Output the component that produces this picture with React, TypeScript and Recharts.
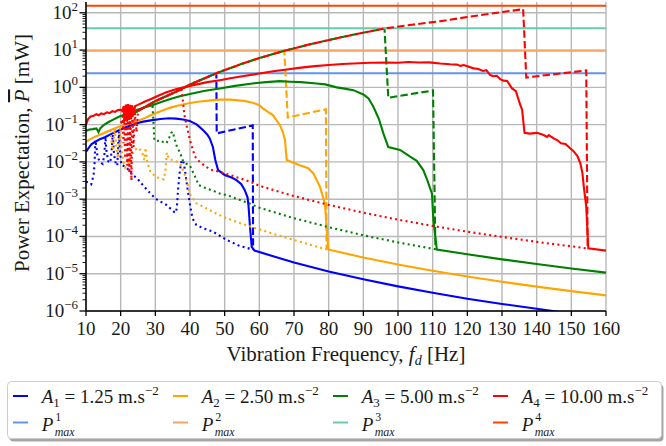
import React from 'react';
import { LineChart, Line, XAxis, YAxis, CartesianGrid } from 'recharts';

type Pt = [number, number];

const FONT = '"Liberation Serif", "Times New Roman", serif';

// ---- axes ----
const freqTicks = [10, 20, 30, 40, 50, 60, 70, 80, 90, 100, 110, 120, 130, 140, 150, 160];
const decadeExponents = [-6, -5, -4, -3, -2, -1, 0, 1, 2];
const minorMultipliers = [2, 3, 4, 5, 6, 7, 8, 9];
const powerDomain: [number, number] = [1e-6, 195];

// ---- amplitudes and power limits ----
const amplitudeLabels = ['1.25', '2.50', '5.00', '10.00'];
const seriesColors = ['#0000ff', '#ffa500', '#008000', '#ff0000'];
const pMaxColors = ['#6495ed', '#f4a460', '#66cdaa', '#ff4500'];
const pMaxValues = [2.4, 9.6, 38.4, 153.6]; // mW

// All curves: [frequency in Hz, log10(power in mW)]

// Shared rising branch of the tuned (dashed) curves
const tunedEnvelope: Pt[] = [
  [20, -0.95], [22.4, -0.79], [25, -0.63], [30, -0.37], [35.9, -0.12], [41, 0.115],
  [47.6, 0.38], [55, 0.633], [60, 0.785], [67.2, 0.98], [75, 1.164], [85, 1.373],
  [96.1, 1.58], [104, 1.68], [112.2, 1.775], [120, 1.887], [128, 1.994], [136.1, 2.097],
];
// Frequency where each tuned curve leaves the shared branch
const tunedCutoffs = [47.6, 67.2, 96.1, 136.1];

const a1Tuned: Pt[] = [[47.7, -1.236], [58.1, -1.02], [58.2, -4.35]];
const a2Tuned: Pt[] = [[68.2, -0.807], [79.2, -0.59], [79.4, -4.35]];
const a3Tuned: Pt[] = [[97.2, -0.28], [110.1, -0.083], [110.8, -4.35]];
const a4Tuned: Pt[] = [[137.0, 0.265], [154.3, 0.453], [154.7, -4.32]];

const a1Solid: Pt[] = [
  [10, -1.73], [10.8, -1.62], [11.6, -1.52], [12.7, -1.46], [14, -1.39], [15.6, -1.33],
  [17.5, -1.24], [19.5, -1.15], [22, -1.05], [24.3, -0.97], [26.5, -0.92], [29.1, -0.88],
  [31.5, -0.85], [33.9, -0.83], [36, -0.84], [38, -0.86], [39.9, -0.9], [42, -1.0],
  [43.8, -1.15], [45, -1.27], [45.7, -1.37], [46.6, -1.6], [47.3, -1.95], [48.1, -2.22],
  [50, -2.35], [52, -2.42], [53.4, -2.49], [54.8, -2.6], [55.8, -2.76], [56.6, -2.95],
  [56.9, -3.2], [57.3, -3.74], [57.8, -4.28], [58.6, -4.38], [70, -4.7], [80, -4.94],
  [90, -5.15], [100, -5.34], [110, -5.51], [120, -5.67], [130, -5.81], [140, -5.94],
  [150, -6.07], [160, -6.18],
];
const a2Solid: Pt[] = [
  [10, -1.46], [11, -1.4], [12.5, -1.33], [14, -1.27], [15.5, -1.21], [17.5, -1.13],
  [19.5, -1.06], [22, -0.99], [24.3, -0.92], [27, -0.82], [29.1, -0.73], [31.5, -0.64],
  [34.1, -0.55], [37, -0.48], [40, -0.42], [43, -0.38], [46, -0.35], [48.6, -0.33],
  [51.5, -0.33], [54, -0.35], [56, -0.37], [58, -0.41], [60, -0.48], [61.1, -0.57],
  [62.5, -0.66], [64, -0.75], [65.9, -1.01], [66.8, -1.2], [67.4, -1.42], [67.9, -1.95],
  [69.3, -2.0], [71.7, -2.09], [74.1, -2.17], [75.6, -2.31], [77.5, -2.67], [78.9, -3.11],
  [79.4, -3.74], [79.9, -4.35], [90, -4.566], [100, -4.752], [110, -4.92], [120, -5.074],
  [130, -5.215], [140, -5.345], [150, -5.467], [160, -5.58],
];
const a3Solid: Pt[] = [
  [10, -1.17], [11, -1.13], [12, -1.12], [13, -1.1], [13.6, -1.2], [14.1, -1.1],
  [15.1, -1.01], [16.5, -0.93], [18, -0.86], [19.5, -0.79], [22, -0.7], [24, -0.63],
  [26.5, -0.55], [29.1, -0.48], [31.5, -0.4], [34.1, -0.32], [37, -0.24], [40, -0.18],
  [44, -0.1], [48.6, -0.03], [53, 0.04], [58, 0.105], [62, 0.14], [65.9, 0.166],
  [69, 0.15], [72, 0.14], [76.5, 0.105], [79, 0.08], [82.3, 0.0], [85, -0.04],
  [87.1, -0.075], [90, -0.19], [91.5, -0.3], [92.9, -0.52], [94.5, -0.85], [95.8, -1.24],
  [97.2, -1.6], [100.6, -1.68], [103.5, -1.86], [105.4, -1.97], [107.3, -2.22],
  [108.5, -2.5], [109.8, -2.85], [110.2, -3.56], [111.2, -4.35], [120, -4.477],
  [130, -4.614], [140, -4.741], [150, -4.859], [160, -4.97],
];
const a4Solid: Pt[] = [
  [10, -1.0], [10.6, -0.85], [11.3, -0.78], [12.2, -0.76], [13, -0.72], [13.7, -0.75],
  [14.4, -0.7], [15.2, -0.72], [16, -0.67], [16.8, -0.69], [17.6, -0.64], [18.4, -0.66],
  [19.2, -0.61], [19.9, -0.6], [20.5, -0.62], [20.9, -0.5], [21.2, -0.9], [21.5, -0.46],
  [21.8, -0.92], [22.1, -0.45], [22.4, -0.88], [22.7, -0.47], [23.0, -0.85], [23.3, -0.48],
  [23.7, -0.7], [24.2, -0.5], [25, -0.47], [27, -0.38], [29.1, -0.3], [31, -0.22],
  [33, -0.14], [35.9, -0.05], [39, 0.02], [42, 0.08], [45, 0.14], [48.6, 0.193],
  [52, 0.25], [56, 0.31], [60, 0.37], [64, 0.43], [67.9, 0.48], [72, 0.53], [76, 0.57],
  [80, 0.6], [84, 0.625], [87.1, 0.64], [92, 0.66], [96.8, 0.667], [100, 0.66],
  [103, 0.68], [106, 0.665], [109, 0.67], [112.2, 0.64], [115, 0.62], [117, 0.61],
  [118, 0.576], [119, 0.6], [121.8, 0.51], [123, 0.5], [124.5, 0.44], [125.5, 0.46],
  [126.6, 0.33], [127.5, 0.3], [128.5, 0.31], [129.5, 0.22], [130.4, 0.18], [131.5, 0.17],
  [132.9, -0.03], [134, -0.1], [135.3, -0.48], [135.8, -0.6], [136.5, -1.22], [138, -1.24],
  [140.1, -1.22], [142, -1.28], [143, -1.33], [143.5, -1.28], [144.9, -1.37], [146, -1.42],
  [147, -1.5], [148.3, -1.52], [149.5, -1.62], [150.7, -1.72], [151.8, -1.85],
  [152.6, -2.04], [153.2, -2.3], [153.6, -2.67], [154.3, -3.2], [154.9, -4.32], [160, -4.38],
];

const a1Fixed: Pt[] = [
  [10, -2.53], [10.8, -2.55], [11.5, -2.6], [12.2, -2.35], [12.5, -2.0], [12.7, -1.42],
  [13.0, -1.6], [13.3, -1.85], [14, -2.0], [14.8, -2.05], [15.3, -1.8], [15.6, -1.32],
  [15.9, -1.7], [16.4, -1.98], [17.0, -2.02], [17.4, -1.7], [17.7, -1.27], [18.1, -1.8],
  [18.6, -2.05], [19.0, -2.1], [19.3, -1.6], [19.5, -1.18], [19.8, -1.7], [20.2, -2.08],
  [21.4, -2.13], [22.4, -2.22], [23.4, -2.35], [24.8, -2.44], [25.8, -2.56], [26.7, -2.65],
  [27.7, -2.76], [29.6, -2.94], [30.6, -3.02], [33, -3.14], [35.4, -3.34], [36, -3.36],
  [36.3, -3.1], [36.6, -2.7], [37, -2.3], [37.5, -2.0], [38, -1.95], [38.5, -2.2],
  [39.4, -2.8], [40.1, -3.2], [40.7, -3.51], [41.8, -3.69], [43.8, -3.78], [46.6, -3.87],
  [50.5, -4.09], [54.4, -4.26], [58.2, -4.35],
];
const a2Fixed: Pt[] = [
  [17.0, -1.14], [17.4, -1.5], [17.7, -1.68], [18.0, -1.45], [18.3, -1.1], [18.7, -1.6],
  [19.2, -1.9], [19.6, -1.3], [19.9, -1.07], [20.3, -1.7], [20.8, -2.0], [21.3, -2.15],
  [22, -2.05], [23, -1.85], [24, -1.68], [25.2, -1.62], [26.2, -1.75], [26.8, -1.95],
  [27.2, -1.62], [27.6, -1.95], [28.3, -2.22], [29, -2.31], [30.2, -2.4], [31.4, -2.45],
  [32.4, -2.47], [32.9, -2.25], [33.3, -1.75], [33.8, -1.9], [35, -1.96], [36.5, -2.0],
  [37.5, -2.1], [38.5, -2.35], [39.4, -2.62], [39.9, -2.85], [41.8, -3.11], [43.8, -3.2],
  [46.6, -3.34], [49.5, -3.47], [53.4, -3.61], [58.7, -3.77], [64, -3.93], [72, -4.15],
  [79.4, -4.35],
];
const a3Fixed: Pt[] = [
  [29.2, -0.5], [29.5, -1.0], [29.7, -1.42], [30.5, -1.44], [31.3, -1.42], [32.3, -1.47],
  [33.2, -1.5], [34.0, -1.35], [34.6, -1.22], [35.0, -1.19], [35.5, -1.36], [36.2, -1.58],
  [37.2, -1.77], [38, -1.98], [39, -2.05], [40, -2.1], [41, -2.3], [41.5, -2.4],
  [42.5, -2.62], [44.4, -2.7], [46.8, -2.78], [48.6, -2.85], [50.9, -2.9], [53.8, -3.0],
  [56.7, -3.1], [60, -3.23], [70, -3.51], [80, -3.75], [90, -3.97], [100, -4.16],
  [111.2, -4.35],
];
const a4Fixed: Pt[] = [
  [20.5, -0.62], [20.8, -1.5], [21.0, -0.6], [21.3, -1.9], [21.6, -0.55], [21.9, -2.1],
  [22.2, -0.6], [22.5, -2.3], [22.8, -0.6], [23.1, -2.5], [23.4, -0.62], [23.7, -1.6],
  [24.1, -0.7], [24.6, -1.2], [25, -0.63], [30, -0.37], [35.9, -0.12], [37.5, -0.05],
  [38.0, -0.4], [38.4, -0.75], [39.2, -1.1], [40, -1.42], [41.4, -1.85], [42.8, -2.0],
  [45.7, -2.2], [48.6, -2.27], [51.5, -2.35], [54.4, -2.44], [57.3, -2.53], [60, -2.64],
  [70, -2.917], [80, -3.153], [90, -3.362], [100, -3.549], [110, -3.717], [120, -3.872],
  [130, -4.013], [140, -4.145], [154.3, -4.317],
];

const solidCurves = [a1Solid, a2Solid, a3Solid, a4Solid];
const tunedTails = [a1Tuned, a2Tuned, a3Tuned, a4Tuned];
const fixedCurves = [a1Fixed, a2Fixed, a3Fixed, a4Fixed];

type Row = { f: number; p: number };
const toRows = (pts: Pt[]): Row[] => pts.map(([f, lg]) => ({ f, p: Math.pow(10, lg) }));

const tunedCurves = tunedTails.map((tail, i) =>
  tunedEnvelope.filter(([f]) => f <= tunedCutoffs[i]).concat(tail)
);

const yTickValues = decadeExponents.flatMap((e) =>
  e < 2 ? [Math.pow(10, e), ...minorMultipliers.map((m) => m * Math.pow(10, e))] : [Math.pow(10, e)]
);

const MINUS = '\u2212';

const YTick = (props: any) => {
  const { x, y, payload } = props;
  const v: number = payload.value;
  const lg = Math.log10(v);
  const e = Math.round(lg);
  const major = Math.abs(lg - e) < 1e-6;
  const axisX = x + 8;
  return (
    <g>
      <line x1={axisX - (major ? 6.5 : 3.5)} x2={axisX} y1={y} y2={y} stroke="#000" strokeWidth={major ? 1.3 : 0.9} />
      {major && (
        <text x={x} y={y + 6} textAnchor="end" fontFamily={FONT} fontSize={19} fill="#1a1a1a">
          10
          <tspan dy={-8} fontSize={13}>{e < 0 ? MINUS + Math.abs(e) : String(e)}</tspan>
        </text>
      )}
    </g>
  );
};

const XTick = (props: any) => {
  const { x, y, payload } = props;
  return (
    <text x={x} y={y + 17} textAnchor="middle" fontFamily={FONT} fontSize={19} fill="#1a1a1a">
      {payload.value}
    </text>
  );
};

const decadeGridRows = (args: any) => {
  const s = args?.yAxis?.scale;
  if (!s) return [];
  const map = (v: number) => (typeof s === 'function' ? s(v) : s.map ? s.map(v) : NaN);
  return decadeExponents.map((e) => map(Math.pow(10, e))).filter((v) => Number.isFinite(v));
};

const DASH = '7.4 3.2';
const DOT = '2 3.3';
const dashOffsets = [0, 3.5, 7, 1.7];

const LegendBox = () => {
  const handleX = [13, 173, 333, 493];
  const textX = [41.7, 201.7, 361.7, 521.7];
  const row1 = 403;
  const row2 = 431;
  return (
    <g fontFamily={FONT} fill="#1a1a1a">
      <rect x={9.5} y={384.5} width={654} height={57} rx={4} fill="#000" opacity={0.35} />
      <rect x={7.5} y={381.5} width={654} height={57} rx={4} fill="#fff" stroke="#cccccc" strokeWidth={1} />
      {amplitudeLabels.map((a, i) => (
        <g key={'a' + i}>
          <line x1={handleX[i]} x2={handleX[i] + 15} y1={396} y2={396} stroke={seriesColors[i]} strokeWidth={2} />
          <text x={textX[i]} y={row1} fontSize={19}>
            <tspan fontStyle="italic">A</tspan>
            <tspan dy={4} fontSize={13}>{i + 1}</tspan>
            <tspan dy={-4}>{' = ' + a + ' m.s'}</tspan>
            <tspan dy={-8} fontSize={13}>{MINUS + '2'}</tspan>
          </text>
          <line x1={handleX[i]} x2={handleX[i] + 15} y1={422.5} y2={422.5} stroke={pMaxColors[i]} strokeWidth={2} />
          <text x={textX[i]} y={row2} fontSize={19} fontStyle="italic">P</text>
          <text x={textX[i] + 13.5} y={row2 - 10} fontSize={12}>{i + 1}</text>
          <text x={textX[i] + 13} y={row2 + 5} fontSize={12} fontStyle="italic">max</text>
        </g>
      ))}
    </g>
  );
};

const Titles = () => (
  <g fontFamily={FONT} fill="#1a1a1a">
    <text x={346} y={361} textAnchor="middle" fontSize={21}>
      {'Vibration Frequency, '}
      <tspan fontStyle="italic">f</tspan>
      <tspan dy={4} fontSize={14} fontStyle="italic">d</tspan>
      <tspan dy={-4}>{' [Hz]'}</tspan>
    </text>
    <text x={29} y={153} textAnchor="middle" fontSize={21} transform="rotate(-90 29 153)">
      {'Power Expectation, '}
      <tspan fontStyle="italic" style={{ textDecoration: 'overline' }}>P</tspan>
      {' [mW]'}
    </text>
  </g>
);

export default function App() {
  const lines: React.ReactNode[] = [];
  for (let i = 0; i < 4; i++) {
    lines.push(
      <Line key={'s' + i} data={toRows(solidCurves[i])} dataKey="p" type="linear" stroke={seriesColors[i]}
        strokeWidth={2.1} dot={false} activeDot={false} isAnimationActive={false} />
    );
    lines.push(
      <Line key={'d' + i} data={toRows(tunedCurves[i])} dataKey="p" type="linear" stroke={seriesColors[i]}
        strokeWidth={2.1} strokeDasharray={DASH} strokeDashoffset={dashOffsets[i]} dot={false}
        activeDot={false} isAnimationActive={false} />
    );
    lines.push(
      <Line key={'o' + i} data={toRows(fixedCurves[i])} dataKey="p" type="linear" stroke={seriesColors[i]}
        strokeWidth={2.1} strokeDasharray={DOT} dot={false} activeDot={false} isAnimationActive={false} />
    );
    lines.push(
      <Line key={'m' + i} data={[{ f: 10, p: pMaxValues[i] }, { f: 160, p: pMaxValues[i] }]} dataKey="p"
        type="linear" stroke={pMaxColors[i]} strokeWidth={2} dot={false} activeDot={false}
        isAnimationActive={false} />
    );
  }

  return (
    <div style={{ position: 'fixed', left: 0, top: 0, width: 666, height: 446, background: '#fff' }}>
      <LineChart width={666} height={446} margin={{ top: 2, right: 60, bottom: 0, left: 0 }}>
        <CartesianGrid stroke="#b8b8b8" strokeWidth={1.4} horizontalCoordinatesGenerator={decadeGridRows} />
        <XAxis dataKey="f" type="number" domain={[10, 160]} ticks={freqTicks} allowDataOverflow
          height={135} tickSize={5} tickMargin={2} tick={<XTick />}
          axisLine={{ stroke: '#000', strokeWidth: 1.5 }} tickLine={{ stroke: '#000', strokeWidth: 1.3 }} />
        <XAxis xAxisId="top" orientation="top" type="number" domain={[10, 160]} height={0}
          tick={false} tickLine={false} axisLine={{ stroke: '#000', strokeWidth: 1.5 }} />
        <YAxis type="number" scale="log" domain={powerDomain} allowDataOverflow ticks={yTickValues}
          interval={0} width={86} tickSize={6} tickMargin={2} tick={<YTick />} tickLine={false}
          axisLine={{ stroke: '#000', strokeWidth: 1.5 }} />
        <YAxis yAxisId="right" orientation="right" width={0} tick={false} tickLine={false}
          axisLine={{ stroke: '#000', strokeWidth: 1.5 }} />
        {lines}
      </LineChart>
      <svg width={666} height={446} style={{ position: 'absolute', left: 0, top: 0, pointerEvents: 'none' }}>
        <Titles />
        <LegendBox />
      </svg>
    </div>
  );
}
